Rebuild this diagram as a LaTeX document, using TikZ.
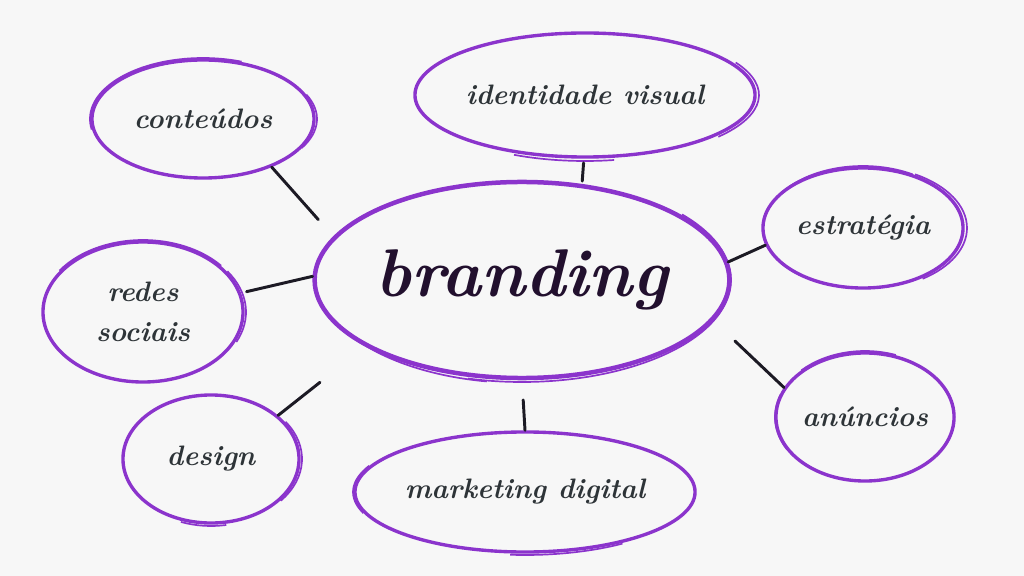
\documentclass[tikz,border=0pt]{standalone}
\usepackage{fontspec}
\usepackage{tikz}
\usetikzlibrary{positioning,calc,shapes.geometric}
\definecolor{brandpurple}{RGB}{139,52,204}
\definecolor{inkgrey}{RGB}{46,52,56}
\definecolor{inkdark}{RGB}{34,16,46}
\definecolor{paper}{RGB}{247,247,247}
\definecolor{linkink}{RGB}{28,26,36}

\begin{document}
\begin{tikzpicture}[
		x=0.025cm, y=-0.025cm,
		bubble/.style={ellipse, draw=brandpurple, line width=2.4pt, inner sep=0pt, align=center,
			text=inkgrey, font=\fontsize{20}{28}\selectfont\bfseries\itshape},
		sketch/.style={draw=brandpurple, line width=1.2pt},
		link/.style={draw=linkink, line width=2.1pt, line cap=round}
		]
		
		% ===== fundo =====
		\fill[paper] (0,0) rectangle (1024,576);
		\useasboundingbox (0,0) rectangle (1024,576);
		
		% ===== nó central =====
		\node[bubble, line width=3.2pt, minimum width=10.25cm, minimum height=4.9cm, text=inkdark,
		font=\fontsize{48}{50}\selectfont\bfseries\itshape] (brand) at (522,280) {branding};
		
		% ===== nós ao redor =====
		\node[bubble, minimum width=8.5cm, minimum height=3.1cm] (ident) at (585,95) {identidade visual};
		\node[bubble, minimum width=5.55cm, minimum height=2.95cm] (cont) at (203,119) {conteúdos};
		\node[bubble, minimum width=5cm, minimum height=3cm] (estr) at (863,228) {estratégia};
		\node[bubble, minimum width=5cm, minimum height=3.5cm] (redes) at (143,312) {redes\\sociais};
		\node[bubble, minimum width=4.4cm, minimum height=3.2cm] (anun) at (865,417) {anúncios};
		\node[bubble, minimum width=4.4cm, minimum height=3.2cm] (design) at (211,459) {design};
		\node[bubble, minimum width=8.5cm, minimum height=3cm] (mark) at (525,492) {marketing digital};
		
		% ===== traços duplos (efeito de esboço) =====
		\foreach \nd/\rx/\ry/\s/\e in {brand/209/102/-40/105, brand/203/103/100/150,
			ident/174/65/-30/40, ident/168/66/80/115,
			cont/113/61/170/290, cont/114/58/-25/30,
			estr/99/62/200/300, estr/104/62/-60/55,
			redes/102/72/215/320, redes/103/71/-35/25,
			anun/90/66/225/290, anun/90/65/150/200,
			design/91/65/-35/40, design/88/67/80/110,
			mark/172/62/160/205, mark/170/63/55/95}{
			\draw[sketch] (\nd.center) ++(\s:{\rx} and {\ry}) arc[start angle=\s, end angle=\e, x radius=\rx, y radius=\ry];
		}
		
		% ===== ligações =====
		\draw[link, shorten >=16pt] (cont.-35) -- (brand.167);
		\draw[link, shorten <=3pt, shorten >=2pt] (ident.-91) -- (brand.58);
		\draw[link] (estr.190) -- (brand.5);
		\draw[link, shorten <=4pt] (redes.11) -- (brand.179);
		\draw[link, shorten >=41pt] (design.33) -- (brand.203);
		\draw[link, shorten >=14pt] (mark.north) -- (brand.south);
		\draw[link, shorten >=21pt] (anun.160) -- (brand.-12);
		
	\end{tikzpicture}
\end{document}
